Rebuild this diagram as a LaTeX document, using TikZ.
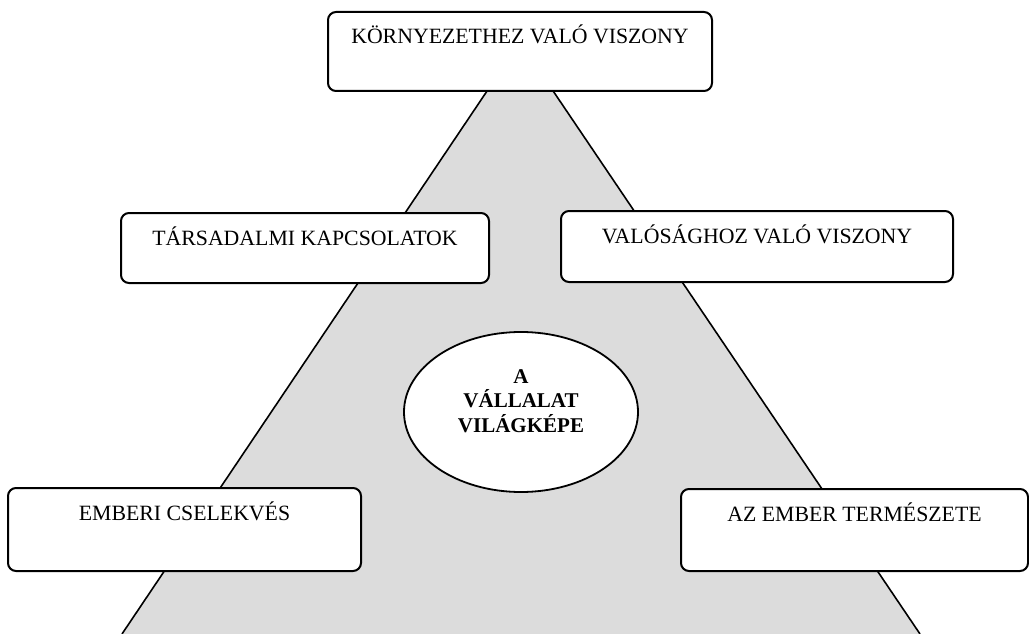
\documentclass[tikz,border=0pt]{standalone}
\usepackage{fontspec}
\setmainfont{Liberation Serif}
\usetikzlibrary{shapes.geometric}
\definecolor{pyramid}{RGB}{220,220,220}
\tikzset{
  box/.style={draw, line width=2pt, rounded corners=8pt, fill=white, inner sep=0pt},
  lbl/.style={font=\fontsize{21.8}{25}\selectfont, inner sep=0pt},
  core/.style={draw, ellipse, line width=1.8pt, fill=white, inner sep=0pt},
  side/.style={line width=1.6pt}
}
\begin{document}
\begin{tikzpicture}[x=1pt,y=-1pt]
\useasboundingbox (0,0) rectangle (1029,634);
% grey pyramid behind everything
\coordinate (apex) at (520,42);
\coordinate (bl) at (122,634);
\coordinate (br) at (920,634);
\fill[pyramid] (apex) -- (bl) -- (br) -- cycle;
\draw[side] (apex) -- (bl);
\draw[side] (apex) -- (br);
% boxes
\node[box, minimum width=384pt, minimum height=79pt] (env) at (520,51.5) {};
\node[box, minimum width=368pt, minimum height=70pt] (soc) at (305,248) {};
\node[box, minimum width=392pt, minimum height=71pt] (real) at (757,246.5) {};
\node[box, minimum width=353pt, minimum height=83pt] (act) at (184.5,529.5) {};
\node[box, minimum width=347pt, minimum height=82pt] (nat) at (854.5,530) {};
% box captions
\node[lbl, anchor=base] (envT) at ([yshift=-33pt]env.north) {KÖRNYEZETHEZ VALÓ VISZONY};
\node[lbl, anchor=base] (socT) at ([yshift=-33pt]soc.north) {TÁRSADALMI KAPCSOLATOK};
\node[lbl, anchor=base] (realT) at ([yshift=-33pt]real.north) {VALÓSÁGHOZ VALÓ VISZONY};
\node[lbl, anchor=base] (actT) at ([yshift=-33pt]act.north) {EMBERI CSELEKVÉS};
\node[lbl, anchor=base] (natT) at ([yshift=-33pt]nat.north) {AZ EMBER TERMÉSZETE};
% central ellipse
\node[core, minimum width=234pt, minimum height=160pt] (world) at (521,412) {};
\node[lbl, font=\fontsize{21}{24.5}\selectfont\bfseries, align=center] (worldT) at (521,401) {A\\VÁLLALAT\\VILÁGKÉPE};
\end{tikzpicture}
\end{document}
